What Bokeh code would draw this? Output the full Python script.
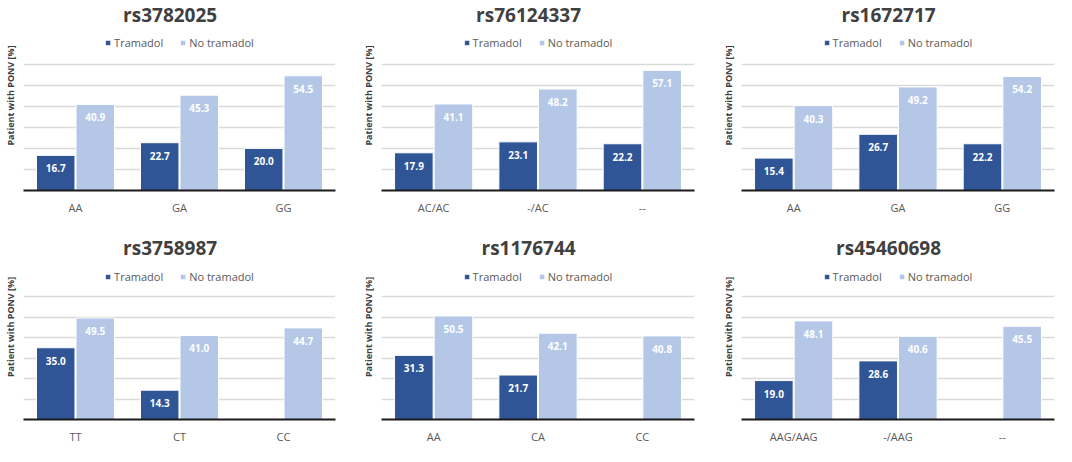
import numpy as np
from bokeh.plotting import figure
from bokeh.models import ColumnDataSource, FactorRange, Range1d, FixedTicker, Legend, LegendItem
from bokeh.transform import dodge
from bokeh.layouts import row, column
from bokeh.embed import file_html
from bokeh.resources import INLINE
from bokeh.core.properties import value

# ---------------- data ----------------
series = ["Tramadol", "No tramadol"]
snps = ["rs3782025", "rs76124337", "rs1672717", "rs3758987", "rs1176744", "rs45460698"]
genotypes = [
    ["AA", "GA", "GG"],
    ["AC/AC", "-/AC", "--"],
    ["AA", "GA", "GG"],
    ["TT", "CT", "CC"],
    ["AA", "CA", "CC"],
    ["AAG/AAG", "-/AAG", "--"],
]
tramadol = [
    [16.7, 22.7, 20.0],
    [17.9, 23.1, 22.2],
    [15.4, 26.7, 22.2],
    [35.0, 14.3, None],
    [31.3, 21.7, None],
    [19.0, 28.6, None],
]
no_tramadol = [
    [40.9, 45.3, 54.5],
    [41.1, 48.2, 57.1],
    [40.3, 49.2, 54.2],
    [49.5, 41.0, 44.7],
    [50.5, 42.1, 40.8],
    [48.1, 40.6, 45.5],
]
y_ticks = [0, 10, 20, 30, 40, 50, 60]
y_label = "Patient with PONV [%]"

# ---------------- style ----------------
DARK = "#2F5597"
LIGHT = "#B4C7E7"
FONT = value("Open Sans")
GREY_TXT = "#595959"
TITLE_TXT = "#404040"

COL_W = [358, 359, 339]
COL_BL = [22, 23, 24]
COL_BR = [23, 23, 2]
ROW_H = [234, 212]
ROW_BB = [44, 22]
FRAME_H = 190          # px, frame spans from figure top to the baseline
GRID_TOP_PX = 63.7     # px from figure top where the 60 % gridline sits
Y_TOP = 60 * FRAME_H / (FRAME_H - GRID_TOP_PX)
PX = 60 / (FRAME_H - GRID_TOP_PX)
TITLE_Y = Y_TOP - 14 * PX


def clean(vals):
    return [np.nan if v is None else v for v in vals]


def fmt(vals):
    return ["" if v is None else f"{v:.1f}" for v in vals]


def make_panel(i):
    c, r = i % 3, i // 3
    cats = genotypes[i]
    p = figure(x_range=FactorRange(*cats), y_range=Range1d(0, Y_TOP),
               width=COL_W[c], height=ROW_H[r], output_backend="svg",
               toolbar_location=None, min_border_left=COL_BL[c],
               min_border_right=COL_BR[c], min_border_top=0,
               min_border_bottom=ROW_BB[r])
    p.outline_line_color = None
    p.background_fill_color = "white"
    p.border_fill_color = "white"

    src = ColumnDataSource(dict(g=cats, t=clean(tramadol[i]), n=clean(no_tramadol[i]),
                                tl=fmt(tramadol[i]), nl=fmt(no_tramadol[i])))
    r1 = p.vbar(x=dodge("g", -0.19, range=p.x_range), top="t", width=0.37, source=src,
                fill_color=DARK, line_color="white", line_width=1)
    r2 = p.vbar(x=dodge("g", 0.19, range=p.x_range), top="n", width=0.37, source=src,
                fill_color=LIGHT, line_color="white", line_width=1)
    for key, lab, off in (("t", "tl", -0.19), ("n", "nl", 0.19)):
        p.text(x=dodge("g", off, range=p.x_range), y=key, text=lab, source=src,
               text_color="white", text_font=FONT, text_font_style="bold",
               text_font_size="10px", text_align="center", text_baseline="middle",
               y_offset=13)

    # title
    p.text(x=[1.41], y=[TITLE_Y], text=[snps[i]], text_color=TITLE_TXT, text_font=FONT,
           text_font_style="bold", text_font_size="19px", text_align="center",
           text_baseline="middle")

    legend = Legend(items=[LegendItem(label=series[0], renderers=[r1]),
                           LegendItem(label=series[1], renderers=[r2])],
                    location="top_center", orientation="horizontal")
    legend.glyph_width = 7
    legend.glyph_height = 7
    legend.label_height = 12
    legend.label_standoff = 3
    legend.spacing = 16
    legend.padding = 0
    legend.margin = 35
    legend.background_fill_alpha = 0
    legend.border_line_alpha = 0
    legend.label_text_font = "Open Sans"
    legend.label_text_font_size = "11px"
    legend.label_text_color = GREY_TXT
    p.add_layout(legend)

    # y axis: only the title; gridlines come from their own ticker
    p.yaxis.ticker = FixedTicker(ticks=[])
    p.ygrid.ticker = FixedTicker(ticks=y_ticks)
    p.yaxis.axis_label = y_label
    p.yaxis.axis_label_text_font = "Open Sans"
    p.yaxis.axis_label_text_font_style = "bold"
    p.yaxis.axis_label_text_font_size = "9px"
    p.yaxis.axis_label_text_color = TITLE_TXT
    p.yaxis.axis_label_standoff = 7
    p.yaxis.major_tick_out = 0
    p.yaxis.major_tick_in = 0
    p.yaxis.major_tick_line_color = None
    p.yaxis.minor_tick_line_color = None
    p.yaxis.axis_line_color = None

    p.ygrid.grid_line_color = "#D9D9D9"
    p.ygrid.grid_line_width = 1.5
    p.xgrid.grid_line_color = None

    p.xaxis.axis_line_color = "#1A1A1A"
    p.xaxis.axis_line_width = 2
    p.xaxis.major_tick_out = 0
    p.xaxis.major_tick_in = 0
    p.xaxis.major_tick_line_color = None
    p.xaxis.minor_tick_line_color = None
    p.xaxis.major_label_text_font = "Open Sans"
    p.xaxis.major_label_text_font_size = "11px"
    p.xaxis.major_label_text_color = GREY_TXT
    p.xaxis.major_label_standoff = 9
    return p


panels = [make_panel(i) for i in range(6)]
layout = column(row(*panels[:3]), row(*panels[3:]))

open("out.html", "w").write(file_html(layout, INLINE))
